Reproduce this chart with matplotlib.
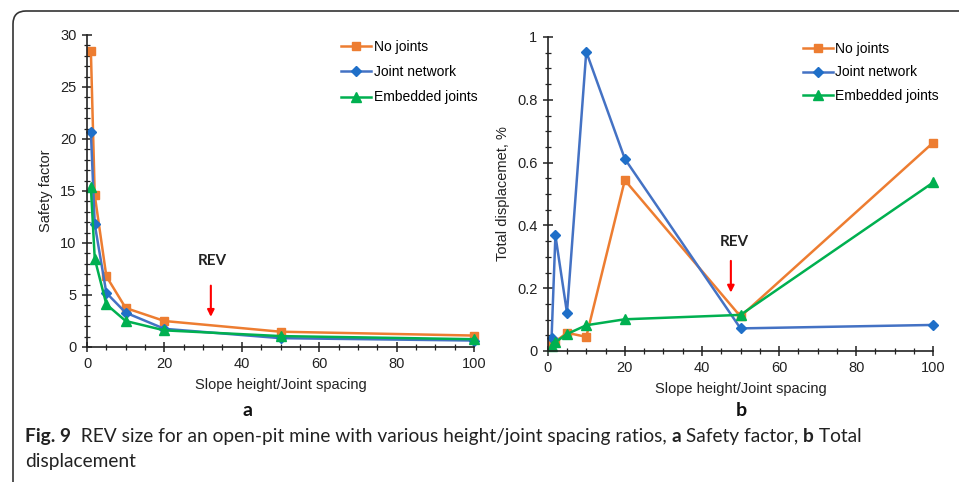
import matplotlib
matplotlib.use("Agg")
import matplotlib.pyplot as plt
from matplotlib.patches import FancyBboxPatch
from matplotlib.ticker import MultipleLocator, FuncFormatter
from matplotlib.transforms import IdentityTransform

plt.rcParams['font.family'] = ['Liberation Sans', 'DejaVu Sans']

# slope height / joint spacing ratios
ratio = [1, 2, 5, 10, 20, 50, 100]

# (a) safety factor
sf_no_joints = [28.5, 14.6, 6.8, 3.75, 2.5, 1.47, 1.1]
sf_joint_network = [20.7, 11.8, 5.2, 3.3, 1.75, 0.85, 0.62]
sf_embedded = [15.4, 8.5, 4.1, 2.5, 1.6, 1.05, 0.75]

# (b) total displacement, %
td_no_joints = [0.025, 0.03, 0.058, 0.045, 0.544, 0.11, 0.664]
td_joint_network = [0.04, 0.368, 0.122, 0.953, 0.612, 0.072, 0.083]
td_embedded = [0.017, 0.028, 0.054, 0.082, 0.101, 0.115, 0.537]

series_names = ['No joints', 'Joint network', 'Embedded joints']
line_colors = ['#ED7D31', '#4472C4', '#00B050']
marker_colors = ['#ED7D31', '#1F6FC8', '#00B050']
markers = ['s', 'D', '^']
marker_sizes = [5.5, 5, 6.5]

W, H = 959, 482
fig = plt.figure(figsize=(W / 100, H / 100), dpi=100)


def px_axes(x0, y0, x1, y1):
    # axes placed from pixel edges (top-left origin)
    return fig.add_axes([x0 / W, 1 - y1 / H, (x1 - x0) / W, (y1 - y0) / H])


def style_axes(ax, ymax, ymajor, yminor, ylabel):
    ax.set_xlim(0, 100)
    ax.set_ylim(0, ymax)
    ax.xaxis.set_major_locator(MultipleLocator(20))
    ax.xaxis.set_minor_locator(MultipleLocator(5))
    ax.yaxis.set_major_locator(MultipleLocator(ymajor))
    ax.yaxis.set_minor_locator(MultipleLocator(yminor))
    ax.yaxis.set_major_formatter(FuncFormatter(lambda v, p: f'{v:g}'))
    for s in ['top', 'right']:
        ax.spines[s].set_visible(False)
    for s in ['left', 'bottom']:
        ax.spines[s].set_linewidth(1.2)
        ax.spines[s].set_color('#222222')
    ax.tick_params(which='major', direction='inout', length=7, width=1.1,
                   labelsize=10.5, colors='#222222', pad=4)
    ax.tick_params(which='minor', direction='inout', length=4, width=0.9,
                   colors='#222222')
    ax.set_xlabel('Slope height/Joint spacing', fontsize=10.5, color='#222222', labelpad=5)
    ax.set_ylabel(ylabel, fontsize=10.5, color='#222222', labelpad=5)


def draw_series(ax, data):
    for vals, name, lc, mc, m, ms in zip(data, series_names, line_colors,
                                         marker_colors, markers, marker_sizes):
        ax.plot(ratio, vals, color=lc, lw=1.8, marker=m, markersize=ms,
                markerfacecolor=mc, markeredgecolor=mc, label=name, clip_on=False)


def draw_legend(ax, x, y, spacing):
    ax.legend(loc='upper left', bbox_to_anchor=(x, y), frameon=False,
              fontsize=10, handlelength=2.2, handletextpad=0.15,
              labelspacing=spacing, borderpad=0, borderaxespad=0, numpoints=1)


# (a) safety factor
ax1 = px_axes(87, 35, 474, 347)
draw_series(ax1, [sf_no_joints, sf_joint_network, sf_embedded])
style_axes(ax1, 30, 5, 1, 'Safety factor')
draw_legend(ax1, 0.656, 0.985, 0.82)
ax1.annotate('', xy=(32, 2.9), xytext=(32, 5.9),
             arrowprops=dict(arrowstyle='-|>', color='#FF0000', lw=1.5,
                             mutation_scale=10, shrinkA=0, shrinkB=0))
ax1.text(32.3, 8.3, 'REV', family='Lato', fontweight='bold', fontsize=11,
         ha='center', va='center', color='#222222')

# (b) total displacement
ax2 = px_axes(547.7, 37, 933.3, 351)
draw_series(ax2, [td_no_joints, td_joint_network, td_embedded])
style_axes(ax2, 1, 0.2, 0.05, 'Total displacemet, %')
draw_legend(ax2, 0.661, 0.985, 0.7)
ax2.annotate('', xy=(47.5, 0.186), xytext=(47.5, 0.287),
             arrowprops=dict(arrowstyle='-|>', color='#FF0000', lw=1.5,
                             mutation_scale=10, shrinkA=0, shrinkB=0))
ax2.text(48.3, 0.348, 'REV', family='Lato', fontweight='bold', fontsize=11,
         ha='center', va='center', color='#222222')

# panel letters
fig.text(247 / W, 1 - 410 / H, 'a', family='Lato', fontweight='bold',
         fontsize=14, ha='center', va='center', color='#111111')
fig.text(741 / W, 1 - 410 / H, 'b', family='Lato', fontweight='bold',
         fontsize=14, ha='center', va='center', color='#111111')

# caption, written piece by piece to mix bold and regular
renderer = fig.canvas.get_renderer()


def caption_line(pieces, x, y):
    for txt, weight in pieces:
        t = fig.text(x / W, 1 - y / H, txt, family='Lato', fontweight=weight,
                     fontsize=13.8, ha='left', va='baseline', color='#222222')
        x = t.get_window_extent(renderer).x1


caption_line([('Fig. 9', 'bold'),
              ('  REV size for an open-pit mine with various height/joint spacing ratios, ', 'normal'),
              ('a', 'bold'), (' Safety factor, ', 'normal'),
              ('b', 'bold'), (' Total', 'normal')], 25, 442)
caption_line([('displacement', 'normal')], 25, 467)

# outer frame with rounded top-left corner
frame = FancyBboxPatch((13, -60), 1100, 482 - 11 + 60,
                       boxstyle='round,pad=0,rounding_size=13',
                       transform=IdentityTransform(), fill=False,
                       edgecolor='#333333', lw=1.2)
fig.add_artist(frame)

fig.savefig('out.png', dpi=100)
